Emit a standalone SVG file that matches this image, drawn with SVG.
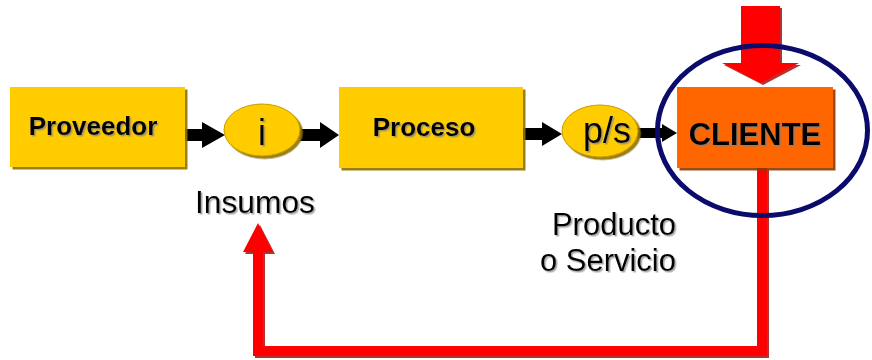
<svg xmlns="http://www.w3.org/2000/svg" width="872" height="360" viewBox="0 0 872 360">
  <defs>
    <filter id="shadowY" x="-10%" y="-10%" width="130%" height="130%">
      <feDropShadow dx="2.5" dy="2.5" stdDeviation="0.4" flood-color="#8f7000" flood-opacity="0.9"/>
    </filter>
    <filter id="shadowO" x="-10%" y="-10%" width="130%" height="130%">
      <feDropShadow dx="2.5" dy="2.5" stdDeviation="0.4" flood-color="#8a3a00" flood-opacity="0.9"/>
    </filter>
    <filter id="shadowR" x="-10%" y="-10%" width="130%" height="130%">
      <feDropShadow dx="2" dy="2" stdDeviation="0.5" flood-color="#a00000" flood-opacity="0.8"/>
    </filter>
    <filter id="shadowT" x="-10%" y="-20%" width="130%" height="150%">
      <feDropShadow dx="1.5" dy="1.5" stdDeviation="0.6" flood-color="#808080" flood-opacity="0.7"/>
    </filter>
  </defs>
  <style>
    .box { fill: #FFCC00; filter: url(#shadowY); }
    .bubble { fill: #FFCC00; stroke: #C79A00; stroke-width: 1; filter: url(#shadowY); }
    .bold { font-family: "Liberation Sans", Arial, sans-serif; font-weight: bold; fill: #000; text-anchor: middle; filter: url(#shadowT); }
    .plain { font-family: "Liberation Sans", Arial, sans-serif; fill: #000; filter: url(#shadowT); }
    .flow { fill: #000; }
    .red { fill: #FF0000; filter: url(#shadowR); }
  </style>

  <!-- connectors -->
  <g id="connectors">
    <!-- black flow arrows -->
    <polygon class="flow" points="185,129 202,129 202,122 225,135 202,148 202,141 185,141"/>
    <polygon class="flow" points="300,129 320,129 320,122 339,135 320,148 320,141 300,141"/>
    <polygon class="flow" points="523,128 542,128 542,122 562,134 542,146 542,140 523,140"/>
    <polygon class="flow" points="637,128 662,128 662,124 677,133 662,142 662,138 637,138"/>
    <!-- feedback loop from the client back to the inputs -->
    <g class="red">
      <path d="M762,168 V351 H258 V250" fill="none" stroke="#FF0000" stroke-width="10" stroke-linejoin="miter"/>
      <polygon points="243,252 273,252 258,223" fill="#FF0000"/>
    </g>
    <!-- demand arrow into the client -->
    <polygon class="red" points="741,6 780,6 780,63 799,63 761,83 722,63 741,63"/>
  </g>

  <g id="proveedor">
    <rect class="box" x="10" y="87" width="175" height="80"/>
    <text class="bold" x="93" y="135" font-size="26">Proveedor</text>
  </g>

  <g id="insumo">
    <ellipse class="bubble" cx="262" cy="130" rx="38" ry="26"/>
    <text class="plain" x="262" y="145" font-size="36" text-anchor="middle">i</text>
  </g>

  <g id="proceso">
    <rect class="box" x="339" y="87" width="184" height="81"/>
    <text class="bold" x="424" y="136" font-size="26">Proceso</text>
  </g>

  <g id="producto">
    <ellipse class="bubble" cx="600" cy="131" rx="38" ry="26"/>
    <text class="plain" x="607" y="143" font-size="36" text-anchor="middle">p/s</text>
  </g>

  <g id="cliente">
    <rect x="677" y="87" width="156" height="81" fill="#FF6600" filter="url(#shadowO)"/>
    <text class="bold" x="755" y="145" font-size="31">CLIENTE</text>
    <ellipse cx="762.5" cy="130.5" rx="105" ry="85" fill="none" stroke="#0B0B6B" stroke-width="5"/>
  </g>

  <g id="labels">
    <text class="plain" x="195" y="213" font-size="31" textLength="120" lengthAdjust="spacingAndGlyphs">Insumos</text>
    <text class="plain" x="676" y="235" font-size="31" text-anchor="end">Producto</text>
    <text class="plain" x="676" y="271" font-size="31" text-anchor="end">o Servicio</text>
  </g>
</svg>
